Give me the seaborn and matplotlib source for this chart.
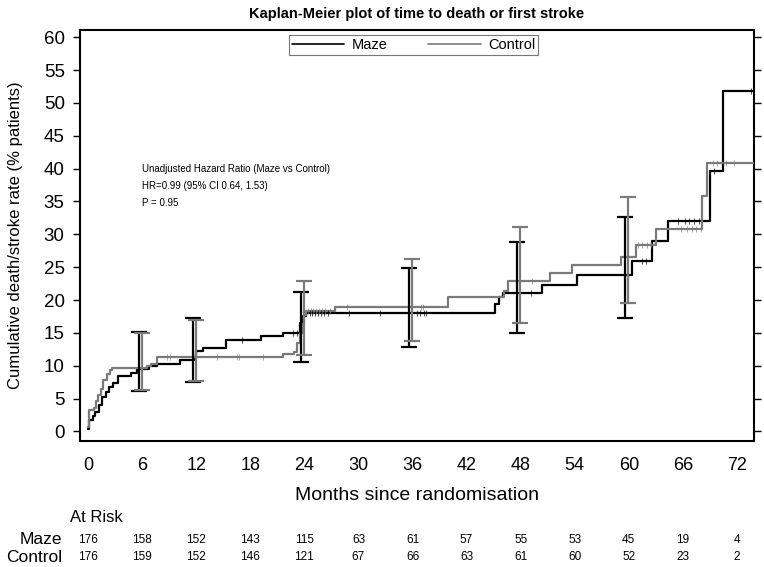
import numpy as np
import pandas as pd
import matplotlib
matplotlib.use("Agg")
import matplotlib.pyplot as plt
import matplotlib.transforms as mtransforms
from matplotlib.lines import Line2D
import seaborn as sns

# step curves (cumulative % with death or first stroke)
maze_t = [0, 0.1, 0.5, 0.8, 1.2, 1.5, 2.0, 2.3, 2.8, 3.3, 4.8, 5.4, 6.8, 7.6, 10.2, 11.7,
          12.0, 12.8, 15.3, 19.2, 21.6, 23.5, 23.8, 24.2, 45.1, 45.6, 46.0, 50.4, 54.3,
          60.4, 62.6, 64.3, 69.0, 70.4, 73.9]
maze_v = [0.4, 1.7, 2.3, 3.0, 4.0, 5.2, 6.0, 6.7, 7.3, 8.5, 8.9, 9.5, 9.9, 10.3, 10.8, 11.3,
          12.3, 12.7, 13.9, 14.5, 15.0, 16.5, 17.5, 18.0, 19.4, 20.5, 21.0, 22.3, 23.8,
          26.0, 29.0, 32.1, 39.7, 51.8, 51.8]

ctrl_t = [0, 0.1, 0.6, 0.9, 1.1, 1.4, 1.7, 2.1, 2.4, 2.6, 6.5, 7.0, 7.6, 21.6, 22.9, 23.2,
          23.5, 23.8, 24.0, 24.2, 27.4, 39.9, 46.2, 46.6, 51.3, 53.7, 59.1, 60.8, 63.0,
          68.1, 68.7, 73.9]
ctrl_v = [0.6, 3.3, 3.6, 4.6, 5.5, 6.5, 7.8, 8.8, 9.3, 9.7, 9.9, 10.3, 11.3, 11.8, 12.1, 13.5,
          14.9, 16.3, 17.7, 18.3, 19.0, 20.4, 21.3, 22.9, 24.1, 25.4, 26.6, 28.4, 30.8,
          35.8, 40.8, 40.8]

# censoring times
maze_cens = [17.1, 22.7, 23.2, 24.6, 24.9, 25.2, 25.5, 25.8, 26.2, 26.6, 29.0, 32.4, 36.5,
             36.8, 37.3, 37.5, 49.1, 61.5, 61.9, 65.5, 66.2, 66.7, 67.2, 67.8, 69.5, 73.6]
ctrl_cens = [8.7, 9.1, 14.3, 16.5, 16.8, 19.4, 24.4, 24.7, 25.0, 25.3, 25.6, 25.9, 26.3,
             26.8, 28.7, 36.9, 37.2, 49.3, 61.0, 61.5, 62.0, 62.5, 65.8, 66.5, 67.0, 67.5,
             68.0, 69.3, 69.8, 70.8, 71.7]

# 95% CI at selected months
ci_times = [6, 12, 24, 36, 48, 60]
maze_lo = [6.1, 7.5, 10.5, 12.9, 15.0, 17.3]
maze_hi = [15.1, 17.2, 21.2, 24.9, 28.9, 32.7]
ctrl_lo = [6.3, 7.7, 11.7, 13.7, 16.5, 19.5]
ctrl_hi = [15.0, 17.0, 22.9, 26.2, 31.1, 35.7]

# numbers at risk
risk_times = [0, 6, 12, 18, 24, 30, 36, 42, 48, 54, 60, 66, 72]
maze_risk = [176, 158, 152, 143, 115, 63, 61, 57, 55, 53, 45, 19, 4]
ctrl_risk = [176, 159, 152, 146, 121, 67, 66, 63, 61, 60, 52, 23, 2]

groups = ["Maze", "Control"]
colors = {"Maze": "black", "Control": "#7a7a7a"}
dodge = {"Maze": -0.4, "Control": -0.05}

sns.set_style("white")
plt.rcParams["font.family"] = ["Liberation Sans", "DejaVu Sans"]
plt.rcParams.update({"text.color": "black", "axes.labelcolor": "black",
                     "xtick.color": "black", "ytick.color": "black"})

curves = pd.concat([
    pd.DataFrame({"group": "Maze", "month": maze_t, "rate": maze_v}),
    pd.DataFrame({"group": "Control", "month": ctrl_t, "rate": ctrl_v}),
])

fig = plt.figure(figsize=(7.64, 5.67), dpi=100)
ax = fig.add_axes([0.1047, 0.223, 0.8823, 0.724])

sns.lineplot(data=curves, x="month", y="rate", hue="group", hue_order=groups,
             palette=colors, estimator=None, sort=False, drawstyle="steps-post",
             linewidth=1.6, legend=False, ax=ax, zorder=3)

# censor marks
for g, ct, st, sv in [("Maze", maze_cens, maze_t, maze_v), ("Control", ctrl_cens, ctrl_t, ctrl_v)]:
    idx = np.searchsorted(st, ct, side="right") - 1
    yy = np.asarray(sv)[idx]
    ax.plot(ct, yy, ls="none", marker="|", ms=5, mew=0.6, color=colors[g], alpha=0.8, zorder=4)

# confidence interval bars
for g, lo, hi in [("Maze", maze_lo, maze_hi), ("Control", ctrl_lo, ctrl_hi)]:
    lo = np.asarray(lo)
    hi = np.asarray(hi)
    mid = (lo + hi) / 2
    ax.errorbar(np.asarray(ci_times) + dodge[g], mid, yerr=[mid - lo, hi - mid], fmt="none",
                ecolor=colors[g], elinewidth=1.6, capsize=5.5, capthick=1.6, zorder=5)

ax.set_xlim(-0.9, 73.9)
ax.set_ylim(-1.4, 61.1)
ax.set_xticks(risk_times)
ax.set_yticks(range(0, 61, 5))
ax.tick_params(axis="x", direction="out", length=6, width=1.2, pad=6, labelsize=13)
ax.tick_params(axis="y", direction="out", length=5, width=1.0, pad=6, labelsize=13.5,
               right=True, left=True)
for s in ax.spines.values():
    s.set_visible(True)
    s.set_color("black")
    s.set_linewidth(1.5)

ax.set_xlabel("Months since randomisation", fontsize=14, labelpad=9)
ax.set_ylabel("Cumulative death/stroke rate (% patients)", fontsize=12, labelpad=15)
ax.set_title("Kaplan-Meier plot of time to death or first stroke", fontsize=10.5,
             fontweight="bold", pad=9)

handles = [Line2D([], [], color=colors[g], lw=1.2) for g in groups]
leg = ax.legend(handles, groups, loc="upper center", bbox_to_anchor=(0.495, 0.988), ncol=2,
                fontsize=10.5, frameon=True, fancybox=False, edgecolor="#555555",
                handlelength=3.6, columnspacing=2.8, borderpad=0.2, handletextpad=0.5,
                borderaxespad=0)
leg.get_frame().set_linewidth(0.8)

ax.text(6.0, 40.0, "Unadjusted Hazard Ratio (Maze vs Control)", fontsize=7, va="center")
ax.text(6.0, 37.4, "HR=0.99 (95% CI 0.64, 1.53)", fontsize=7, va="center")
ax.text(6.0, 34.8, "P = 0.95", fontsize=7, va="center")

# at-risk table
trans = mtransforms.blended_transform_factory(ax.transData, fig.transFigure)
fig.text(70 / 764, 1 - 517 / 567, "At Risk", fontsize=12, va="center", ha="left")
for row_y, g, counts in [(540, "Maze", maze_risk), (557, "Control", ctrl_risk)]:
    yf = 1 - row_y / 567
    fig.text(62 / 764, yf, g, fontsize=12.5, va="center", ha="right")
    for t, n in zip(risk_times, counts):
        ax.text(t, yf, str(n), transform=trans, fontsize=8.5, va="center", ha="center")

fig.savefig("out.png", dpi=100)
